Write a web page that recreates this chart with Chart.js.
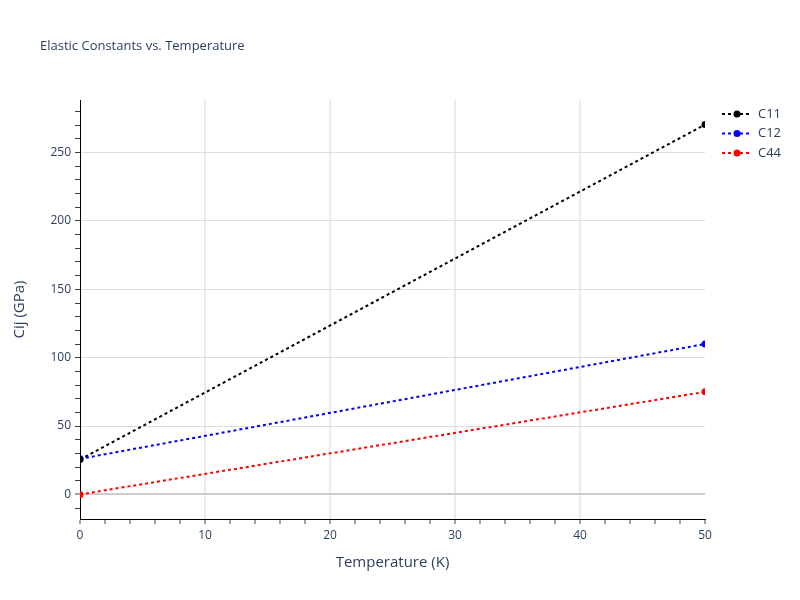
<!DOCTYPE html>
<html>
<head>
<meta charset="utf-8">
<script src="https://cdn.jsdelivr.net/npm/chart.js@4"></script>
<style>
html,body{margin:0;padding:0;background:#fff}
</style>
</head>
<body>
<canvas id="chart" width="800" height="600"></canvas>
<script>

/* data */
let temps = [0, 50]
let c11 = [25.5, 270.5]
let c12 = [26, 110]
let c44 = [0, 75]

let seriesNames = ["C11","C12","C44"]
let seriesColors = ["#000000","#0000ff","#ff0000"]

let yTickValues = []
for(let v=-10; v<=280; v+=10) yTickValues.push(v)
let xTickValues = []
for(let v=0; v<=50; v+=2) xTickValues.push(v)

let textColor = "#2a3f5f"
let font = "'Open Sans', Verdana, sans-serif"

function makeSet(i, values){
return {
label:seriesNames[i],
data:temps.map((t,k)=>({x:t,y:values[k]})),
borderColor:seriesColors[i],
backgroundColor:seriesColors[i],
borderWidth:2,
borderDash:[3,3],
pointRadius:3.5,
pointHoverRadius:3.5,
pointBorderWidth:0,
fill:false,
tension:0
}
}

/* extra text: title, axis titles, legend */
let decor = {
id:"decor",
afterDraw(c){
let ctx = c.ctx
ctx.save()
ctx.fillStyle = textColor
ctx.textBaseline = "middle"

ctx.font = "13px " + font
ctx.textAlign = "left"
ctx.fillText("Elastic Constants vs. Temperature", 40, 46)

ctx.font = "15px " + font
ctx.textAlign = "center"
ctx.fillText("Temperature (K)", (c.chartArea.left+c.chartArea.right)/2, 563)

ctx.save()
ctx.translate(20, (c.chartArea.top+c.chartArea.bottom)/2)
ctx.rotate(-Math.PI/2)
ctx.fillText("Cij (GPa)", 0, 0)
ctx.restore()

/* legend */
ctx.font = "13px " + font
ctx.textAlign = "left"
c.data.datasets.forEach((ds,i)=>{
let y = 114 + i*19.5
ctx.strokeStyle = ds.borderColor
ctx.lineWidth = 2
ctx.setLineDash([3,3])
ctx.beginPath()
ctx.moveTo(722,y)
ctx.lineTo(752,y)
ctx.stroke()
ctx.setLineDash([])
ctx.fillStyle = ds.borderColor
ctx.beginPath()
ctx.arc(737,y,3.5,0,Math.PI*2)
ctx.fill()
ctx.fillStyle = textColor
ctx.fillText(ds.label, 758, y)
})
ctx.restore()
}
}

let chart = new Chart(document.getElementById("chart").getContext("2d"),{
type:"line",
data:{
datasets:[
makeSet(0,c11),
makeSet(1,c12),
makeSet(2,c44)
]
},
options:{
responsive:false,
animation:false,
layout:{padding:{top:100,right:95,left:0,bottom:0}},
plugins:{
legend:{display:false},
tooltip:{enabled:false}
},
scales:{
x:{
type:"linear",
min:0,
max:50,
afterBuildTicks:s=>{ s.ticks = xTickValues.map(v=>({value:v})) },
afterFit:s=>{ s.height = 81 },
border:{color:"#000",width:1},
grid:{
color:g=>(g.tick && g.tick.value%10===0 && g.tick.value>0 && g.tick.value<50) ? "#ebebeb" : "rgba(0,0,0,0)",
lineWidth:2,
tickColor:"#444",
tickWidth:1,
tickLength:5
},
ticks:{
color:textColor,
font:{size:12,family:font},
padding:4,
maxRotation:0,
autoSkip:false,
callback:v=>v%10===0 ? v : ""
}
},
y:{
type:"linear",
min:-18,
max:288.5,
afterBuildTicks:s=>{ s.ticks = yTickValues.map(v=>({value:v})) },
afterFit:s=>{ s.width = 80 },
border:{color:"#000",width:1},
grid:{
color:g=>{
if(!g.tick) return "rgba(0,0,0,0)"
if(g.tick.value===0) return "#cccccc"
return g.tick.value%50===0 ? "#dddddd" : "rgba(0,0,0,0)"
},
lineWidth:g=>(g.tick && g.tick.value===0) ? 2 : 1,
tickColor:"#444",
tickWidth:1,
tickLength:5
},
ticks:{
color:textColor,
font:{size:12,family:font},
padding:4,
autoSkip:false,
callback:v=>v%50===0 ? v : ""
}
}
}
},
plugins:[decor]
})

</script>
</body>
</html>
